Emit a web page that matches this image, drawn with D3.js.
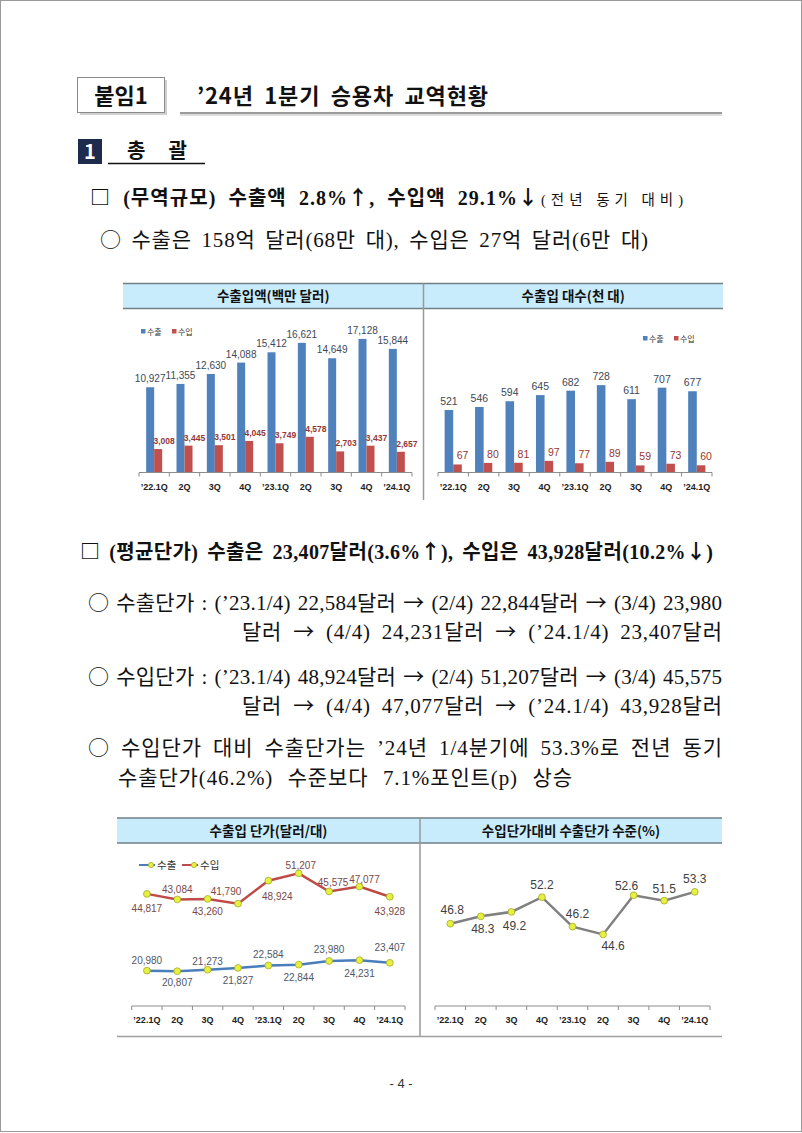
<!DOCTYPE html>
<html>
<head>
<meta charset="utf-8">
<script src="https://cdn.jsdelivr.net/npm/d3@7"></script>
<style>
  body { margin: 0; background: #fff; }
  svg { display: block; }
</style>
</head>
<body>
<div class="page"></div>
<script>
// quarters on the x axis (shared by all four charts)
var quarters = ["’22.1Q", "2Q", "3Q", "4Q", "’23.1Q", "2Q", "3Q", "4Q", "’24.1Q"];
var seriesNames = ["수출", "수입"];

// 수출입액 (백만 달러)
var exportValue = [10927, 11355, 12630, 14088, 15412, 16621, 14649, 17128, 15844];
var importValue = [3008, 3445, 3501, 4045, 3749, 4578, 2703, 3437, 2657];

// 수출입 대수 (천 대)
var exportUnits = [521, 546, 594, 645, 682, 728, 611, 707, 677];
var importUnits = [67, 80, 81, 97, 77, 89, 59, 73, 60];

// 수출입 단가 (달러/대)
var exportPrice = [20980, 20807, 21273, 21827, 22584, 22844, 23980, 24231, 23407];
var importPrice = [44817, 43084, 43260, 41790, 48924, 51207, 45575, 47077, 43928];

// 수입단가대비 수출단가 수준 (%)
var priceRatio = [46.8, 48.3, 49.2, 52.2, 46.2, 44.6, 52.6, 51.5, 53.3];

var chartTitles = ["수출입액(백만 달러)", "수출입 대수(천 대)", "수출입 단가(달러/대)", "수입단가대비 수출단가 수준(%)"];

var serif = "'Liberation Serif', 'Noto Sans CJK KR', serif";
var sans = "'Noto Sans CJK KR', sans-serif";
var num = "'Liberation Sans', 'Noto Sans CJK KR', sans-serif";
var blue = "#4f81bd", red = "#c0504d";

var svg = d3.select(".page").append("svg")
  .attr("width", 802)
  .attr("height", 1133);

// page frame
svg.append("rect")
  .attr("x", 0.5).attr("y", 0.5)
  .attr("width", 801).attr("height", 1131)
  .attr("fill", "none").attr("stroke", "#9a9a9a");

// text line; symbols go to the CJK font, the line is stretched to its width
// (half of the gap on the spaces, half between letters)
function textLine(str, x, y, w, size, weight, family) {
  var t = svg.append("text")
    .attr("x", x).attr("y", y)
    .attr("font-size", size)
    .attr("font-weight", weight || "normal")
    .attr("font-family", family || serif)
    .attr("fill", "#111");
  str.split(/([○□↑↓→])/).forEach(function(part) {
    if (!part) return;
    var s = t.append("tspan").text(part);
    if (/[○□↑↓→]/.test(part)) s.attr("font-family", sans);
  });
  if (w) {
    var extra = w - t.node().getComputedTextLength();
    var spaces = (str.match(/ /g) || []).length;
    var n = str.length - 1;
    var ls = extra * 0.5 / n;
    t.attr("letter-spacing", ls);
    if (spaces) t.attr("word-spacing", extra * 0.5 / spaces);
  }
  return t;
}

// ---- heading ----
svg.append("rect").attr("x", 80).attr("y", 80).attr("width", 87).attr("height", 35).attr("fill", "#d0d0d0");
svg.append("rect").attr("x", 77.5).attr("y", 77.5).attr("width", 87).attr("height", 35)
  .attr("fill", "#fff").attr("stroke", "#8a8a8a");
svg.append("text").attr("x", 121).attr("y", 104).attr("text-anchor", "middle")
  .attr("font-size", 22).attr("font-weight", "bold").attr("font-family", sans)
  .attr("fill", "#111").text("붙임1");
textLine("’24년 1분기 승용차 교역현황", 197, 104, 291, 22, "bold", sans);
svg.append("line").attr("x1", 180).attr("x2", 722).attr("y1", 113).attr("y2", 113)
  .attr("stroke", "#7a7a7a").attr("stroke-width", 1.5);
svg.append("line").attr("x1", 180).attr("x2", 722).attr("y1", 115).attr("y2", 115)
  .attr("stroke", "#d5d5d5").attr("stroke-width", 1.5);

svg.append("rect").attr("x", 78).attr("y", 139).attr("width", 24).attr("height", 25).attr("fill", "#1f2b4d");
svg.append("text").attr("x", 90).attr("y", 159).attr("text-anchor", "middle")
  .attr("font-size", 20).attr("font-weight", "bold").attr("font-family", sans)
  .attr("fill", "#fff").text("1");
svg.append("text").attr("x", 127).attr("y", 158)
  .attr("font-size", 20).attr("font-weight", "bold").attr("font-family", sans)
  .attr("textLength", 60).attr("fill", "#111").text("총 괄");
svg.append("line").attr("x1", 108).attr("x2", 205).attr("y1", 163.5).attr("y2", 163.5)
  .attr("stroke", "#111").attr("stroke-width", 1.5);

// ---- body text ----
textLine("□ (무역규모) 수출액 2.8%↑, 수입액 29.1%↓", 90, 205, 448, 20, "bold");
svg.append("text").attr("x", 541).attr("y", 205)
  .attr("font-size", 14.5).attr("font-family", serif).attr("fill", "#111")
  .attr("textLength", 142).text("(전년 동기 대비)");
textLine("○ 수출은 158억 달러(68만 대), 수입은 27억 달러(6만 대)", 100, 247, 548, 21);

textLine("□ (평균단가) 수출은 23,407달러(3.6%↑), 수입은 43,928달러(10.2%↓)", 80, 559, 633, 20, "bold");
textLine("○ 수출단가 : (’23.1/4) 22,584달러 → (2/4) 22,844달러 → (3/4) 23,980", 88, 610, 634, 21);
textLine("달러 → (4/4) 24,231달러 → (’24.1/4) 23,407달러", 242, 639, 480, 21);
textLine("○ 수입단가 : (’23.1/4) 48,924달러 → (2/4) 51,207달러 → (3/4) 45,575", 88, 684, 634, 21);
textLine("달러 → (4/4) 47,077달러 → (’24.1/4) 43,928달러", 242, 713, 480, 21);
textLine("○ 수입단가 대비 수출단가는 ’24년 1/4분기에 53.3%로 전년 동기", 88, 755, 634, 21);
textLine("수출단가(46.2%) 수준보다 7.1%포인트(p) 상승", 118, 785, 454, 21);

svg.append("text").attr("x", 401).attr("y", 1088).attr("text-anchor", "middle")
  .attr("font-size", 13).attr("font-family", num).attr("fill", "#333").text("- 4 -");

// ---- chart panels ----
function panel(x0, xm, x1, y0, y1, bottom, titles) {
  svg.append("rect").attr("x", x0).attr("y", y0).attr("width", x1 - x0).attr("height", y1 - y0)
    .attr("fill", "#c8ecfc");
  [y0, y1].forEach(function(yy) {
    svg.append("line").attr("x1", x0).attr("x2", x1).attr("y1", yy).attr("y2", yy)
      .attr("stroke", "#6f7f87").attr("stroke-width", 1.5);
  });
  svg.append("line").attr("x1", xm).attr("x2", xm).attr("y1", y0).attr("y2", bottom)
    .attr("stroke", "#999").attr("stroke-width", 1.5);
  [[x0, xm], [xm, x1]].forEach(function(r, i) {
    svg.append("text").attr("x", (r[0] + r[1]) / 2).attr("y", (y0 + y1) / 2 + 5)
      .attr("text-anchor", "middle").attr("font-size", 13.5).attr("font-weight", "bold")
      .attr("font-family", sans).attr("fill", "#111").text(titles[i]);
  });
}
panel(123, 423.5, 723, 283.5, 308.5, 500, chartTitles.slice(0, 2));
panel(117, 420, 722, 818, 843, 1037, chartTitles.slice(2, 4));
svg.append("line").attr("x1", 117).attr("x2", 722).attr("y1", 1036.5).attr("y2", 1036.5)
  .attr("stroke", "#a0a0a0").attr("stroke-width", 1.5);

// category axis with Excel-style ticks between categories
function catAxis(x, base) {
  var g = svg.append("g");
  g.append("line").attr("x1", x.range()[0]).attr("x2", x.range()[1])
    .attr("y1", base).attr("y2", base).attr("stroke", "#8c8c8c");
  g.selectAll(".tk").data(d3.range(quarters.length + 1)).enter().append("line")
    .attr("x1", d => x.range()[0] + d * x.step())
    .attr("x2", d => x.range()[0] + d * x.step())
    .attr("y1", base).attr("y2", base + 4).attr("stroke", "#8c8c8c");
  var ax = svg.append("g")
    .attr("transform", "translate(0," + base + ")")
    .call(d3.axisBottom(x).tickSize(0).tickFormat(i => quarters[i]));
  ax.select(".domain").remove();
  ax.attr("font-family", num).attr("font-size", 9);
  ax.selectAll("text").attr("y", 17).attr("dy", 0)
    .attr("font-weight", "bold").attr("fill", "#222");
}

function drawBars(o) {
  var x = d3.scaleBand().domain(d3.range(quarters.length)).range([o.x0, o.x1]);
  var y = d3.scaleLinear().domain([0, o.max]).range([o.base, o.top]);
  var rows = quarters.map((q, i) => ({ i: i, e: o.exp[i], m: o.imp[i] }));
  var cx = d => x(d.i) + x.bandwidth() / 2;

  var g = svg.append("g");
  g.selectAll(".e").data(rows).enter().append("rect")
    .attr("x", d => cx(d) - o.bw).attr("y", d => y(d.e))
    .attr("width", o.bw).attr("height", d => o.base - y(d.e)).attr("fill", blue);
  g.selectAll(".m").data(rows).enter().append("rect")
    .attr("x", d => cx(d)).attr("y", d => y(d.m))
    .attr("width", o.bw).attr("height", d => o.base - y(d.m)).attr("fill", red);

  g.selectAll(".el").data(rows).enter().append("text")
    .attr("x", d => cx(d) - o.bw / 2).attr("y", d => y(d.e) - 5)
    .attr("text-anchor", "middle").attr("font-family", num).attr("font-size", o.eSize)
    .attr("fill", "#3d4858").text(d => d3.format(",")(d.e));
  g.selectAll(".ml").data(rows).enter().append("text")
    .attr("x", d => cx(d) + o.bw / 2 + o.mdx).attr("y", d => y(d.m) - 5)
    .attr("text-anchor", "middle").attr("font-family", num).attr("font-size", o.mSize)
    .attr("font-weight", o.mWeight).attr("fill", "#953735").text(d => d3.format(",")(d.m));

  catAxis(x, o.base);

  // legend
  var lg = svg.append("g").attr("transform", "translate(" + o.lx + "," + o.ly + ")");
  [blue, red].forEach(function(c, i) {
    lg.append("rect").attr("x", i * 31).attr("y", -4).attr("width", 4.5).attr("height", 4.5).attr("fill", c);
    lg.append("text").attr("x", i * 31 + 6).attr("y", 1.5).attr("font-size", 8)
      .attr("font-family", sans).attr("fill", "#333").text(seriesNames[i]);
  });
}

drawBars({ x0: 139, x1: 412, base: 472.5, top: 316.5, max: 20000, bw: 8, eSize: 10,
  exp: exportValue, imp: importValue, mSize: 8.5, mWeight: "bold", mdx: 6, lx: 141, ly: 333 });
drawBars({ x0: 438, x1: 712, base: 472.5, top: 352.5, max: 1000, bw: 8.6, eSize: 10.5,
  exp: exportUnits, imp: importUnits, mSize: 10.5, mWeight: "normal", mdx: 5, lx: 643, ly: 340 });

function drawLines(o) {
  var x = d3.scaleBand().domain(d3.range(quarters.length)).range([o.x0, o.x1]);
  var y = d3.scaleLinear().domain(o.domain).range([o.base, o.top]);
  var cx = i => x(i) + x.bandwidth() / 2;
  catAxis(x, o.base);

  o.series.forEach(function(s) {
    var line = d3.line().x((d, i) => cx(i)).y(d => y(d));
    svg.append("path").datum(s.values).attr("d", line)
      .attr("fill", "none").attr("stroke", s.color).attr("stroke-width", 2.5);
    svg.selectAll(null).data(s.values).enter().append("circle")
      .attr("cx", (d, i) => cx(i)).attr("cy", d => y(d)).attr("r", 3.4)
      .attr("fill", "#e6f03e").attr("stroke", "#a4aa30").attr("stroke-width", 0.8);
    svg.selectAll(null).data(s.values).enter().append("text")
      .attr("x", (d, i) => cx(i) + s.off[i][0]).attr("y", (d, i) => y(d) + s.off[i][1])
      .attr("text-anchor", "middle").attr("font-family", num).attr("font-size", s.size)
      .attr("fill", s.labelColor).text(d => s.fmt(d));
  });
}

// label placement (dx, dy from the point)
var exportPriceOffset = [[0, -7], [0, 15], [0, -5], [0, 16], [0, -7], [0, 16], [0, -8], [0, 17], [0, -12]];
var importPriceOffset = [[0, 18], [0, -6], [0, 16], [-12, -9], [9, 19], [2, -4], [4, -5], [5, -4], [0, 18]];
var ratioOffset = [[2, -10], [2, 17], [3, 18], [0, -8], [5, -9], [10, 16], [-7, -5], [0, -8], [0, -9]];

drawLines({ x0: 131.7, x1: 405, base: 1006, top: 845, domain: [10000, 60000],
  series: [
    { values: exportPrice, color: "#4a7ebb", labelColor: "#505766", size: 10, off: exportPriceOffset, fmt: d3.format(",") },
    { values: importPrice, color: "#be4b48", labelColor: "#7a4848", size: 10, off: importPriceOffset, fmt: d3.format(",") }
  ] });

drawLines({ x0: 435, x1: 710, base: 1006, top: 859, domain: [30, 60],
  series: [
    { values: priceRatio, color: "#808080", labelColor: "#404040", size: 12, off: ratioOffset, fmt: d3.format(".1f") }
  ] });

// line legend
var ll = svg.append("g").attr("transform", "translate(139,865)");
[["#4a7ebb", 0], ["#be4b48", 43]].forEach(function(c, i) {
  ll.append("line").attr("x1", c[1]).attr("x2", c[1] + 16).attr("y1", 0).attr("y2", 0)
    .attr("stroke", c[0]).attr("stroke-width", 2);
  ll.append("circle").attr("cx", c[1] + 12).attr("cy", 0).attr("r", 2.6)
    .attr("fill", "#e6f03e").attr("stroke", "#a4aa30").attr("stroke-width", 0.8);
  ll.append("text").attr("x", c[1] + 18).attr("y", 4).attr("font-size", 10.5)
    .attr("font-family", sans).attr("fill", "#333").text(seriesNames[i]);
});
</script>
</body>
</html>
